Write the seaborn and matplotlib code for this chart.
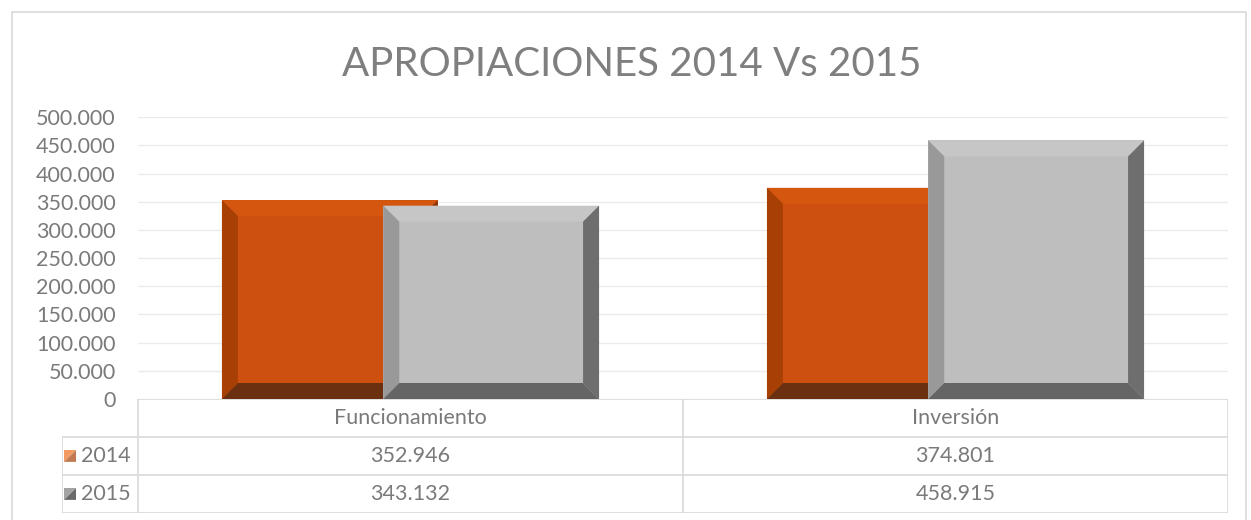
import numpy as np
import pandas as pd
import seaborn as sns
import matplotlib.pyplot as plt
from matplotlib.patches import Polygon, Rectangle

# data
categories = ["Funcionamiento", "Inversión"]
years = ["2014", "2015"]
values_2014 = [352946, 374801]
values_2015 = [343132, 458915]
y_ticks = list(range(0, 500001, 50000))

face = {"2014": "#CD5010", "2015": "#BEBEBE"}
bevel = {
    "2014": {"top": "#D4560F", "left": "#A84006", "right": "#8A3508", "bottom": "#6B300F"},
    "2015": {"top": "#C6C6C6", "left": "#999999", "right": "#6E6E6E", "bottom": "#656565"},
}
key_cols = {"2014": ("#F29A62", "#C27A52"), "2015": ("#A3A3A3", "#6A6A6A")}
txt = "#7A7A7A"
line = "#D9D9D9"


def fmt(v):
    return f"{v:,.0f}".replace(",", ".")


df = pd.DataFrame({
    "cat": categories * 2,
    "year": [years[0]] * 2 + [years[1]] * 2,
    "val": values_2014 + values_2015,
})

W, H = 1251, 520
fig = plt.figure(figsize=(W / 100, H / 100), dpi=100)
sns.set_style("white")
plt.rcParams["font.family"] = ["Lato", "DejaVu Sans"]

ax = fig.add_axes([138 / W, 1 - 399 / H, 1090 / W, (399 - 117.3) / H])
sns.barplot(data=df, x="cat", y="val", hue="year", palette=face, dodge=True,
            width=0.8, ax=ax, legend=False, errorbar=None, saturation=1)

ax.set_xlim(-0.5, 1.5)
ax.set_ylim(0, 500000)

# Excel-like overlapping bevelled bars
bar_w = 0.396
offset = 0.148
px_x = 2 / 1090
px_y = 500000 / (399 - 117.3)
bx, by = 16 * px_x, 16 * px_y
patches = list(ax.patches)
for i, p in enumerate(patches):
    yr = years[i // len(categories)]
    ci = i % len(categories)
    sign = -1 if yr == "2014" else 1
    x0 = ci + sign * offset - bar_w / 2
    p.set_x(x0)
    p.set_width(bar_w)
    p.set_edgecolor("none")
    z = 2 if yr == "2014" else 3
    p.set_zorder(z)
    x1 = x0 + bar_w
    top = p.get_height()
    b = bevel[yr]
    polys = {
        "top": [(x0, top), (x1, top), (x1 - bx, top - by), (x0 + bx, top - by)],
        "left": [(x0, 0), (x0, top), (x0 + bx, top - by), (x0 + bx, by)],
        "right": [(x1, 0), (x1, top), (x1 - bx, top - by), (x1 - bx, by)],
        "bottom": [(x0, 0), (x1, 0), (x1 - bx, by), (x0 + bx, by)],
    }
    for k, pts in polys.items():
        ax.add_patch(Polygon(pts, closed=True, facecolor=b[k], edgecolor="none", zorder=z + 0.1))

ax.set_yticks(y_ticks)
ax.set_yticklabels([fmt(v) for v in y_ticks], fontsize=15.5, color=txt)
ax.set_xticks([])
ax.set_xlabel("")
ax.set_ylabel("")
ax.tick_params(axis="y", length=0, pad=16)
ax.grid(axis="y", color="#EBEBEB", linewidth=1)
ax.set_axisbelow(True)
for s in ax.spines.values():
    s.set_visible(False)

# data table
tx = fig.add_axes([62 / W, 1 - 513 / H, 1166 / W, 114 / H])
left = -0.5 - 76 * px_x
tx.set_xlim(left, 1.5)
tx.set_ylim(3, 0)
tx.axis("off")
lw = 1.2
tx.plot([-0.5, 1.5], [0, 0], color=line, lw=lw)
for yy in (1, 2, 3):
    tx.plot([left, 1.5], [yy, yy], color=line, lw=lw)
for xx in (-0.5, 0.5, 1.5):
    tx.plot([xx, xx], [0, 3], color=line, lw=lw)
tx.plot([left, left], [1, 3], color=line, lw=lw)

fs = 15.5
for ci, c in enumerate(categories):
    tx.text(ci, 0.5, c, ha="center", va="center", fontsize=fs, color=txt)
rows = [values_2014, values_2015]
for r, yr in enumerate(years):
    yc = 1.5 + r
    for ci in range(len(categories)):
        tx.text(ci, yc, fmt(rows[r][ci]), ha="center", va="center", fontsize=fs, color=txt)
    kx0 = left + 2 * px_x
    kw = 12 * px_x
    kh = 0.31
    c1, c2 = key_cols[yr]
    tx.add_patch(Polygon([(kx0, yc + kh / 2), (kx0, yc - kh / 2), (kx0 + kw, yc - kh / 2)],
                         closed=True, facecolor=c1, edgecolor="none"))
    tx.add_patch(Polygon([(kx0, yc + kh / 2), (kx0 + kw, yc - kh / 2), (kx0 + kw, yc + kh / 2)],
                         closed=True, facecolor=c2, edgecolor="none"))
    tx.text(kx0 + kw + 5 * px_x, yc, yr, ha="left", va="center", fontsize=fs, color=txt)

fig.text(632 / W, 1 - 65 / H, "APROPIACIONES 2014 Vs 2015", ha="center", va="center",
         fontsize=29, color="#7F7F7F")

fig.patches.append(Rectangle((12 / W, -0.01), (1246 - 12) / W, (H - 12) / H + 0.01,
                             transform=fig.transFigure, fill=False, edgecolor="#D9D9D9",
                             lw=1.2))

fig.savefig("out.png", dpi=100)
